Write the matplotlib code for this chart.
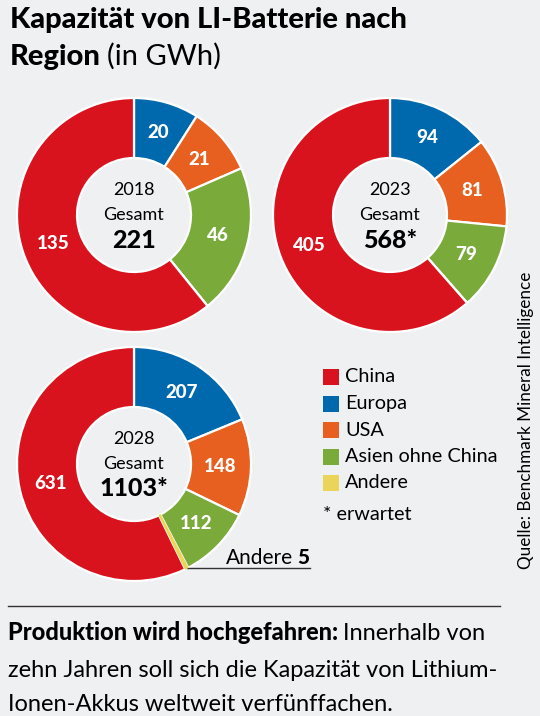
import numpy as np
import matplotlib.pyplot as plt
from matplotlib.patches import Rectangle

plt.rcParams['font.family'] = ['Lato', 'DejaVu Sans']

regions = ['Europa', 'USA', 'Asien ohne China', 'Andere', 'China']
colors = ['#0069ad', '#e8601f', '#79aa3a', '#ead55a', '#d9131e']
legend_order = ['China', 'Europa', 'USA', 'Asien ohne China', 'Andere']

years = ['2018', '2023', '2028']
totals = ['221', '568*', '1103*']
values_2018 = [20, 21, 46, 0, 135]
values_2023 = [94, 81, 79, 0, 405]
values_2028 = [207, 148, 112, 5, 631]

W, H = 540, 716
bg = '#eff0f2'

fig = plt.figure(figsize=(W / 100, H / 100), dpi=100, facecolor=bg)
ax = fig.add_axes([0, 0, 1, 1])
ax.set_facecolor(bg)


def Y(y):
  return H - y


R = 117
ring = 60
donuts = [(134, 215, values_2018), (390, 215, values_2023), (134, 464, values_2028)]

for (cx, cy, vals), year, total in zip(donuts, years, totals):
  wedges, _ = ax.pie(vals, colors=colors, startangle=90, counterclock=False,
                     center=(cx, Y(cy)), radius=R,
                     wedgeprops=dict(width=ring, edgecolor='white', linewidth=1.6))
  for w, v in zip(wedges, vals):
    if v < 10:
      continue
    a = np.deg2rad((w.theta1 + w.theta2) / 2)
    r = R - ring / 2 - 1
    ax.text(cx + r * np.cos(a), Y(cy) + r * np.sin(a), str(v), color='white',
            fontsize=13.5, fontweight='black', ha='center', va='center')
  ax.text(cx, Y(cy - 25), year, fontsize=13, ha='center', va='center')
  ax.text(cx, Y(cy), 'Gesamt', fontsize=13, ha='center', va='center')
  ax.text(cx, Y(cy + 25), total, fontsize=18, fontweight='black', ha='center', va='center')

# thin "Andere" slice: keep it visible above the white separators
w = wedges[3]
w.set_edgecolor(colors[3])
w.set_linewidth(0.6)
w.set_zorder(3)

ax.set_xlim(0, W)
ax.set_ylim(0, H)
ax.set_aspect('auto')
ax.axis('off')

fig.canvas.draw()
rend = fig.canvas.get_renderer()
inv = ax.transData.inverted()


def text_end(t):
  bb = t.get_window_extent(renderer=rend)
  return inv.transform((bb.x1, bb.y0))[0]


# Andere leader
cx, cy, vals = donuts[2]
a = np.deg2rad((w.theta1 + w.theta2) / 2)
x0, y0 = cx + R * np.cos(a), Y(cy) + R * np.sin(a)
ax.plot([x0, 310], [y0, y0], color='#333333', lw=1)
t5 = ax.text(309, y0 + 4, '5', fontsize=15, fontweight='black', ha='right', va='baseline')
bb = t5.get_window_extent(renderer=rend)
x5 = inv.transform((bb.x0, bb.y0))[0]
ax.text(x5 - 4, y0 + 4, 'Andere', fontsize=15, ha='right', va='baseline')

# legend
for i, name in enumerate(legend_order):
  col = colors[regions.index(name)]
  yc = 377 + i * 26.5
  ax.add_patch(Rectangle((323, Y(yc) - 8), 16, 16, facecolor=col, edgecolor='none'))
  ax.text(345, Y(yc), name, fontsize=14.3, va='center')
ax.text(323, Y(515), '* erwartet', fontsize=14.3, va='center')

ax.text(526, Y(420), 'Quelle: Benchmark Mineral Intelligence', rotation=90,
        fontsize=12.3, ha='center', va='center')

# title
ax.text(10, Y(28), 'Kapazität von LI-Batterie nach', fontsize=21, fontweight='black', va='baseline')
t = ax.text(10, Y(65), 'Region', fontsize=21, fontweight='black', va='baseline')
ax.text(text_end(t) + 6, Y(65), '(in GWh)', fontsize=21, va='baseline')

# footer
ax.plot([8, 500], [Y(606), Y(606)], color='#333333', lw=1)
t = ax.text(8, Y(640), 'Produktion wird hochgefahren:', fontsize=17, fontweight='black', va='baseline')
ax.text(text_end(t) + 5, Y(640), 'Innerhalb von', fontsize=17, va='baseline')
ax.text(8, Y(677), 'zehn Jahren soll sich die Kapazität von Lithium-', fontsize=17, va='baseline')
ax.text(8, Y(711), 'Ionen-Akkus weltweit verfünffachen.', fontsize=17, va='baseline')

fig.savefig('out.png', dpi=100, facecolor=bg)
